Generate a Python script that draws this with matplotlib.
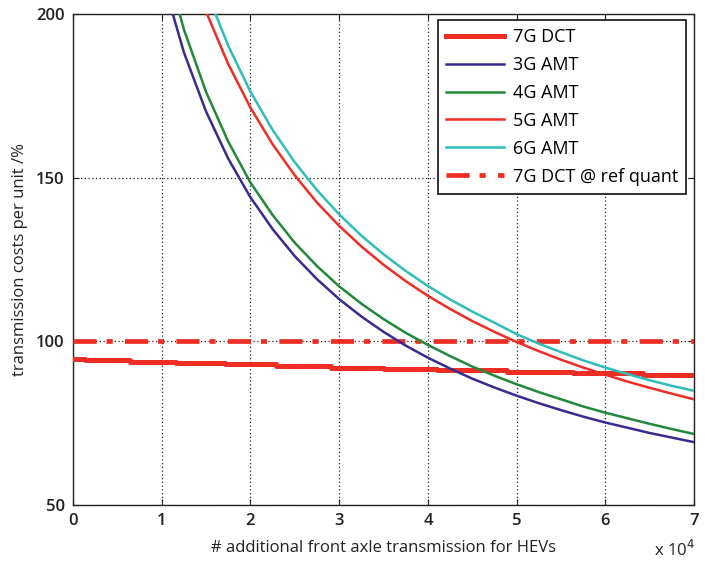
import matplotlib
matplotlib.use("Agg")
import matplotlib.pyplot as plt
from matplotlib.ticker import FuncFormatter

plt.rcParams["font.family"] = ["Open Sans", "DejaVu Sans"]

# Number of additional front axle transmissions (grid for the 3G/4G curves)
quantity = [10000, 12500, 15000, 17500, 20000, 22500, 25000, 27500, 30000,
            32500, 35000, 37500, 40000, 42500, 45000, 47500, 50000, 52500,
            55000, 57500, 60000, 62500, 65000, 67500, 70000]

# Cost per unit (%) for the 3- and 4-speed AMT
amt_3g = [211.7, 188.3, 170.2, 155.8, 144.0, 134.3, 126.0, 119.0, 112.9,
          107.6, 102.9, 98.7, 95.0, 91.7, 88.6, 85.9, 83.4, 81.1,
          79.0, 77.0, 75.2, 73.6, 72.0, 70.6, 69.2]
amt_4g = [219.7, 195.3, 176.2, 161.0, 148.5, 138.6, 130.1, 123.0, 116.8,
          111.5, 106.8, 102.6, 98.9, 95.5, 92.3, 89.5, 86.9, 84.5,
          82.3, 80.1, 78.2, 76.5, 74.8, 73.2, 71.7]

# Grid and cost per unit (%) for the 5- and 6-speed AMT
quantity_hi = [12500, 15000, 17500, 20000, 22500, 25000, 27500, 30000, 32500,
               35000, 37500, 40000, 42500, 45000, 47500, 50000, 52500, 55000,
               57500, 60000, 62500, 65000, 67500, 70000]
amt_5g = [220.6, 200.7, 184.7, 171.4, 160.2, 150.7, 142.4, 135.3, 129.0,
          123.4, 118.4, 113.9, 109.9, 106.2, 102.9, 99.8, 97.0, 94.4,
          92.0, 89.8, 87.7, 85.8, 84.0, 82.3]
amt_6g = [228.4, 207.2, 190.3, 176.3, 164.6, 154.7, 146.2, 138.8, 132.3,
          126.6, 121.5, 116.9, 112.8, 109.1, 105.7, 102.2, 99.3, 96.7,
          94.2, 92.0, 90.0, 88.1, 86.4, 84.9]

# 7G DCT: stepwise cost as the shared volume grows
dct_steps = [0, 1350, 6400, 11600, 17100, 22900, 29100, 35100, 41000,
             48900, 56400, 64300, 70000]
dct_cost = [94.6, 94.2, 93.8, 93.5, 93.0, 92.5, 92.0, 91.6, 91.2,
            90.7, 90.2, 89.8, 89.8]

dct_ref_quant = 100.0

RED = "#ee2e24"
BLUE = "#372b92"
GREEN = "#22893a"
CYAN = "#2fbdb9"
INK = "#222222"

fig = plt.figure(figsize=(7.05, 5.62), dpi=100)
ax = fig.add_axes([0.1035, 0.1014, 0.881, 0.8737])

ax.step(dct_steps, dct_cost, where="post", color=RED, lw=3.6,
        label="7G DCT", zorder=3)
ax.plot(quantity, amt_3g, color=BLUE, lw=1.8, label="3G AMT", zorder=4)
ax.plot(quantity, amt_4g, color=GREEN, lw=1.8, label="4G AMT", zorder=4)
ax.plot(quantity_hi, amt_5g, color=RED, lw=1.8, label="5G AMT", zorder=4)
ax.plot(quantity_hi, amt_6g, color=CYAN, lw=1.8, label="6G AMT", zorder=4)
ax.axhline(dct_ref_quant, color=RED, lw=3.4, dashes=(4.9, 2.1, 1.3, 2.6),
           label="7G DCT @ ref quant", zorder=3)

ax.set_xlim(0, 70000)
ax.set_ylim(50, 200)
ax.set_xticks(range(0, 70001, 10000))
ax.set_yticks([50, 100, 150, 200])
ax.xaxis.set_major_formatter(FuncFormatter(lambda v, p: f"{v / 1e4:g}"))

ax.grid(True, color=INK, linestyle=(0, (1, 2)), lw=0.9)
ax.set_axisbelow(True)
ax.tick_params(direction="in", top=True, right=True, length=4,
               labelsize=12, colors=INK, pad=6)
for lbl in ax.get_xticklabels() + ax.get_yticklabels():
    lbl.set_fontweight("semibold")
for s in ax.spines.values():
    s.set_color(INK)
    s.set_linewidth(1.0)

ax.set_xlabel("# additional front axle transmission for HEVs",
              fontsize=12, color=INK, labelpad=8)
ax.set_ylabel("transmission costs per unit /%", fontsize=12,
              color=INK, labelpad=6)
fig.text(0.986, 0.004, r"x 10$^{4}$", ha="right", va="bottom",
         fontsize=12, color=INK)

leg = ax.legend(loc="upper right", bbox_to_anchor=(0.987, 0.988),
                fontsize=13, frameon=True, fancybox=False,
                handlelength=3.2, handletextpad=0.5, labelspacing=0.55,
                borderpad=0.45, borderaxespad=0.0)
leg.get_frame().set_edgecolor(INK)
leg.get_frame().set_linewidth(1.3)
leg.get_frame().set_alpha(1.0)

fig.savefig("out.png", dpi=100)
